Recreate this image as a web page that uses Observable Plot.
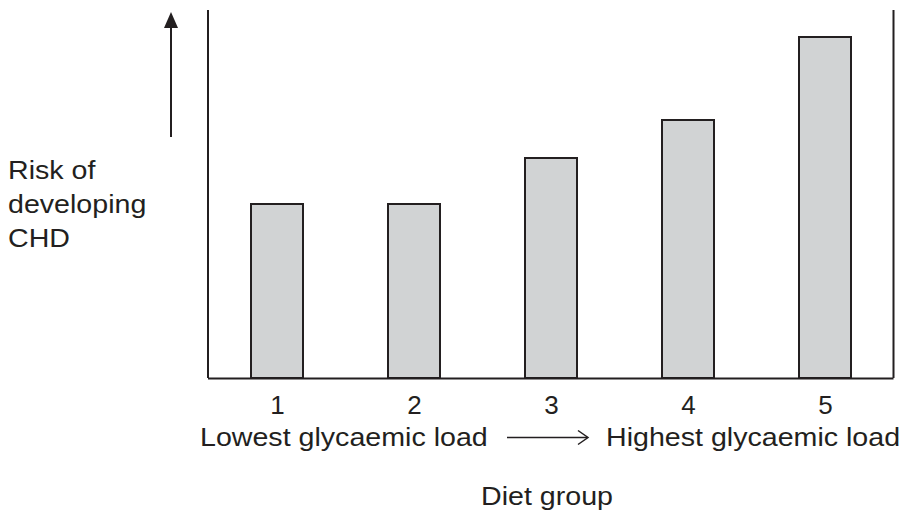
<!DOCTYPE html>
<html>
<head>
<meta charset="utf-8">
<script src="https://cdn.jsdelivr.net/npm/d3@7"></script>
<script src="https://cdn.jsdelivr.net/npm/@observablehq/plot@0.6"></script>
<style>
  html, body { margin: 0; padding: 0; background: white; }
  svg { display: block; }
</style>
</head>
<body>
<div id="chart"></div>
<script>
// ---- Data (relative risk units) ----
const groups = ["1", "2", "3", "4", "5"];
const risk = [1.74, 1.74, 2.20, 2.58, 3.41];
const yMax = 3.68;
const yLabelLines = ["Risk of", "developing", "CHD"];
const lowLabel = "Lowest glycaemic load";
const highLabel = "Highest glycaemic load";
const xTitle = "Diet group";

const data = groups.map((g, i) => ({group: g, risk: risk[i]}));

const ink = "#231f20";
const font = "'Liberation Sans', Arial, Helvetica, sans-serif";

const chart = Plot.plot({
  width: 907,
  height: 516,
  marginLeft: 208,
  marginRight: 13.5,
  marginTop: 10,
  marginBottom: 138,
  style: {fontFamily: font, fontSize: "26px", color: ink, background: "white", overflow: "visible"},
  x: {domain: groups, paddingInner: 0.62, paddingOuter: 0.31, label: null, tickSize: 0, tickPadding: 17},
  y: {domain: [0, yMax], axis: null},
  marks: [
    Plot.barY(data, {x: "group", y: "risk", fill: "#d1d3d4", stroke: ink, strokeWidth: 2}),
    Plot.ruleY([0], {stroke: ink, strokeWidth: 2})
  ]
});
document.getElementById("chart").appendChild(chart);

// ---- Decorations: side frame lines, arrows and annotation text ----
const svg = d3.select(chart);
const [x0, x1] = chart.scale("x").range;
const [yb, yt] = chart.scale("y").range;
const deco = svg.append("g").attr("stroke", ink).attr("fill", "none");

// left and right frame sides
deco.append("line").attr("x1", x0).attr("x2", x0).attr("y1", yt).attr("y2", yb).attr("stroke-width", 2);
deco.append("line").attr("x1", x1).attr("x2", x1).attr("y1", yt).attr("y2", yb).attr("stroke-width", 2);

// vertical arrow (risk increases upward)
const ax = x0 - 37;
deco.append("line").attr("x1", ax).attr("x2", ax).attr("y1", yt + 127).attr("y2", yt + 16).attr("stroke-width", 2);
deco.append("path").attr("d", `M${ax},${yt + 2}L${ax - 7},${yt + 18}L${ax + 7},${yt + 18}Z`)
  .attr("fill", ink).attr("stroke", "none");

// horizontal arrow between the glycaemic-load labels
const hy = yb + 59.5;
deco.append("line").attr("x1", 507).attr("x2", 587).attr("y1", hy).attr("y2", hy).attr("stroke-width", 1.5);
deco.append("path").attr("d", `M578,${hy - 7}L588,${hy}L578,${hy + 7}`).attr("stroke-width", 1.5);

function label(text, x, y, anchor = "start") {
  svg.append("g")
    .attr("transform", `translate(${x},${y}) scale(1.1,1)`)
    .append("text")
    .attr("text-anchor", anchor)
    .attr("font-family", font)
    .attr("font-size", 26)
    .attr("fill", ink)
    .text(text);
}

yLabelLines.forEach((t, i) => label(t, 8, 179 + i * 34));
label(lowLabel, 200, yb + 68);
label(highLabel, 606, yb + 68);
label(xTitle, 547, yb + 127, "middle");
</script>
</body>
</html>
